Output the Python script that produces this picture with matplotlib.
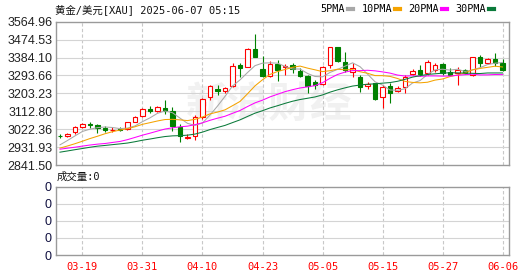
# Gold / USD daily k-line with moving averages (Sina style)
import numpy as np
import matplotlib
matplotlib.use('Agg')
import matplotlib.pyplot as plt
from matplotlib.ticker import FixedLocator, FuncFormatter
import pandas as pd

# data
dates = ['03-14', '03-17', '03-18', '03-19', '03-20', '03-21', '03-24', '03-25', '03-26', '03-27',
         '03-28', '03-31', '04-01', '04-02', '04-03', '04-04', '04-07', '04-08', '04-09', '04-10',
         '04-11', '04-14', '04-15', '04-16', '04-17', '04-21', '04-22', '04-23', '04-24', '04-25',
         '04-28', '04-29', '04-30', '05-01', '05-02', '05-05', '05-06', '05-07', '05-08', '05-09',
         '05-12', '05-13', '05-14', '05-15', '05-16', '05-19', '05-20', '05-21', '05-22', '05-23',
         '05-26', '05-27', '05-28', '05-29', '05-30', '06-02', '06-03', '06-04', '06-05', '06-06']
opens = [2990, 2986, 3006, 3033, 3046, 3042, 3026, 3016, 3021, 3023,
         3060, 3090, 3122, 3116, 3129, 3116, 3031, 2980, 2989, 3085,
         3183, 3224, 3217, 3240, 3345, 3338, 3425, 3328, 3292, 3351,
         3336, 3346, 3318, 3291, 3262, 3250, 3346, 3435, 3363, 3313,
         3284, 3240, 3254, 3183, 3240, 3215, 3233, 3301, 3321, 3304,
         3321, 3350, 3313, 3307, 3321, 3296, 3385, 3358, 3375, 3357]
highs = [2999, 3004, 3038, 3055, 3057, 3047, 3036, 3034, 3032, 3059,
         3087, 3128, 3140, 3139, 3169, 3136, 3048, 2998, 3094, 3182,
         3245, 3245, 3233, 3357, 3357, 3430, 3505, 3390, 3368, 3371,
         3351, 3354, 3330, 3296, 3270, 3341, 3438, 3438, 3413, 3354,
         3296, 3262, 3257, 3245, 3254, 3238, 3295, 3325, 3346, 3371,
         3357, 3358, 3330, 3338, 3325, 3389, 3397, 3384, 3405, 3378]
lows = [2979, 2982, 2999, 3026, 3030, 3004, 3009, 3009, 3013, 3019,
        3059, 3084, 3103, 3111, 3099, 3013, 2959, 2972, 2970, 3076,
        3170, 3194, 3206, 3236, 3286, 3335, 3385, 3287, 3285, 3267,
        3296, 3304, 3284, 3206, 3227, 3245, 3329, 3363, 3309, 3287,
        3212, 3224, 3170, 3127, 3156, 3212, 3206, 3296, 3292, 3296,
        3313, 3296, 3291, 3245, 3299, 3291, 3338, 3351, 3341, 3318]
closes = [2988, 3000, 3033, 3047, 3044, 3027, 3016, 3020, 3019, 3057,
          3082, 3124, 3116, 3133, 3116, 3038, 2988, 2984, 3082, 3175,
          3240, 3214, 3229, 3343, 3330, 3425, 3388, 3293, 3351, 3321,
          3343, 3324, 3291, 3240, 3244, 3334, 3435, 3368, 3321, 3329,
          3237, 3248, 3173, 3237, 3206, 3229, 3287, 3318, 3299, 3360,
          3344, 3304, 3296, 3321, 3304, 3385, 3358, 3375, 3355, 3322]

# moving averages as shown on the chart
ma5 = [2943.2, 2965.2, 2988.4, 3011.0, 3022.4, 3030.2, 3033.4, 3030.8, 3025.2, 3027.8,
       3038.8, 3060.4, 3079.6, 3102.4, 3114.2, 3105.4, 3078.2, 3051.8, 3041.6, 3053.4,
       3093.8, 3139.0, 3188.0, 3240.2, 3271.2, 3308.2, 3343.0, 3355.8, 3357.4, 3355.6,
       3339.2, 3326.4, 3326.0, 3303.8, 3288.4, 3286.6, 3308.8, 3324.2, 3340.4, 3357.4,
       3338.0, 3300.6, 3261.6, 3244.8, 3220.2, 3218.6, 3226.4, 3255.4, 3267.8, 3298.6,
       3321.6, 3325.0, 3320.6, 3325.0, 3313.8, 3322.0, 3332.8, 3348.6, 3355.4, 3359.0]
ma10 = [2926.8, 2937.5, 2949.0, 2961.7, 2975.0, 2986.7, 2999.3, 3009.6, 3018.1, 3025.1,
        3034.5, 3046.9, 3055.2, 3063.8, 3071.0, 3072.1, 3069.3, 3065.7, 3072.0, 3083.8,
        3099.6, 3108.6, 3119.9, 3140.9, 3162.3, 3201.0, 3241.0, 3271.9, 3298.8, 3313.4,
        3323.7, 3334.7, 3340.9, 3330.6, 3322.0, 3312.9, 3317.6, 3325.1, 3322.1, 3322.9,
        3312.3, 3304.7, 3292.9, 3292.6, 3288.8, 3278.3, 3263.5, 3258.5, 3256.3, 3259.4,
        3270.1, 3275.7, 3288.0, 3296.4, 3306.2, 3321.8, 3328.9, 3334.6, 3340.2, 3336.4]
ma20 = [2921.3, 2926.4, 2931.3, 2937.0, 2942.3, 2946.8, 2950.0, 2955.3, 2960.4, 2969.5,
        2980.7, 2992.2, 3002.1, 3012.8, 3023.0, 3029.4, 3034.3, 3037.7, 3045.1, 3054.5,
        3067.1, 3077.8, 3087.6, 3102.4, 3116.7, 3136.6, 3155.2, 3168.8, 3185.4, 3198.6,
        3211.7, 3221.7, 3230.4, 3235.8, 3242.2, 3257.0, 3279.3, 3298.5, 3310.5, 3318.2,
        3318.0, 3319.7, 3316.9, 3311.6, 3305.4, 3295.6, 3290.6, 3291.8, 3289.2, 3291.2,
        3291.2, 3290.2, 3290.5, 3294.5, 3297.5, 3300.1, 3296.2, 3296.6, 3298.3, 3297.9]
ma30 = [2906.3, 2912.4, 2918.8, 2924.8, 2931.1, 2936.6, 2940.2, 2944.3, 2948.1, 2952.4,
        2959.0, 2966.6, 2972.6, 2979.3, 2985.2, 2988.6, 2989.8, 2992.1, 2997.6, 3007.6,
        3020.3, 3031.0, 3041.4, 3055.5, 3069.4, 3086.6, 3103.2, 3115.7, 3129.6, 3140.8,
        3152.6, 3163.4, 3172.0, 3178.4, 3185.1, 3195.3, 3209.3, 3220.9, 3231.0, 3240.0,
        3245.2, 3249.3, 3251.2, 3254.7, 3257.7, 3264.1, 3274.0, 3285.2, 3292.4, 3298.6,
        3302.0, 3305.0, 3307.3, 3306.5, 3305.7, 3304.3, 3303.3, 3306.1, 3306.2, 3306.2]

price_ticks = [2841.50, 2931.93, 3022.36, 3112.80, 3203.23, 3293.66, 3384.10, 3474.53, 3564.96]
vol_ticks = [0, 1, 2, 3, 4]
vol_total = 0
ma_names = ['5PMA', '10PMA', '20PMA', '30PMA']
ma_colors = ['#a8a8a8', '#f5a300', '#ff00ff', '#0a7a3a']

df = pd.DataFrame({'date': dates, 'open': opens, 'high': highs, 'low': lows, 'close': closes})
x = np.arange(len(df))
up = (df.close >= df.open).values

RED = '#ff0000'
GREEN = '#008000'
GRID = '#d4d4d4'
FRAME = '#9a9a9a'
cjk = ['DejaVu Sans Mono', 'Noto Sans CJK SC']

fig = plt.figure(figsize=(5.3, 2.76), dpi=100)
fig.patch.set_facecolor('white')

W, H = 530.0, 276.0
ax = fig.add_axes([55.7 / W, 1 - 165 / H, (509.3 - 55.7) / W, (165 - 21.7) / H])
ax2 = fig.add_axes([55.7 / W, 1 - 255 / H, (509.3 - 55.7) / W, (255 - 186.7) / H])

xlim = (-0.57, 59.9)

# watermark
ax.text(0.47, 0.42, '新浪财经', transform=ax.transAxes, ha='center', va='center',
        fontsize=30, fontweight='bold', color='#f1f1f1', family='Noto Sans CJK SC', zorder=0)

# frames and dashed date lines
for a in (ax, ax2):
    a.set_xlim(*xlim)
    a.set_facecolor('white')
    for s in a.spines.values():
        s.set_color(FRAME)
        s.set_linewidth(1.0)
    a.tick_params(length=0)
    for t in range(3, len(df), 8):
        a.axvline(t, color='#c8c8c8', lw=0.8, ls=(0, (3, 2)), zorder=1)

ax.set_ylim(price_ticks[0], price_ticks[-1])
ax.yaxis.set_major_locator(FixedLocator(price_ticks))
ax.yaxis.set_major_formatter(FuncFormatter(lambda v, p: '%.2f' % v))
ax.tick_params(axis='y', pad=2, labelsize=9, labelcolor='#222222', labelfontfamily='Liberation Sans')
ax.set_xticks([])
for v in price_ticks[1:-1]:
    ax.axhline(v, color=GRID, lw=0.8, zorder=1)

# candles: wicks then bodies
ax.vlines(x[up], df.low[up], df.high[up], color=RED, lw=0.8, zorder=2)
ax.vlines(x[~up], df.low[~up], df.high[~up], color=GREEN, lw=0.8, zorder=2)
body = (df.close - df.open).abs().clip(lower=0.5).values
bottom = df[['open', 'close']].min(axis=1).values
ax.bar(x[up], body[up], bottom=bottom[up], width=0.62, facecolor='white', edgecolor=RED, lw=0.8, zorder=3)
ax.bar(x[~up], body[~up], bottom=bottom[~up], width=0.62, facecolor=GREEN, edgecolor=GREEN, lw=0.8, zorder=3)

# moving averages
lines = []
for vals, name, c in zip([ma5, ma10, ma20, ma30], ma_names, ma_colors):
    ln, = ax.plot(x, vals, color=c, lw=0.75, label=name, zorder=4)
    lines.append(ln)

leg = fig.legend(handles=lines, labels=ma_names, ncol=4, markerfirst=False, frameon=False,
                 loc='center right', bbox_to_anchor=(499 / W, 1 - 9.5 / H), borderpad=0,
                 handlelength=0.5, handletextpad=0.3, columnspacing=0.8,
                 prop={'family': 'DejaVu Sans Mono', 'size': 7.3})
for h in leg.legend_handles:
    h.set_linewidth(3)

# volume panel (no volume data)
ax2.set_ylim(vol_ticks[0], vol_ticks[-1])
ax2.yaxis.set_major_locator(FixedLocator(vol_ticks))
ax2.yaxis.set_major_formatter(FuncFormatter(lambda v, p: '%d' % vol_total))
ax2.tick_params(axis='y', pad=3, labelsize=9, labelcolor='#101040', labelfontfamily='Liberation Sans')
for v in vol_ticks[1:-1]:
    ax2.axhline(v, color=GRID, lw=0.8, zorder=1)
ax2.set_xticks(x[3::8])
ax2.set_xticklabels(df.date[3::8], family='DejaVu Sans Mono', fontsize=7.5, color=RED)
ax2.tick_params(axis='x', pad=5)

# texts
fig.text(55 / W, 1 - 9.5 / H, '黄金/美元[XAU] 2025-06-07 05:15', family=cjk, fontsize=7.5,
         va='center', ha='left', color='#111111')
fig.text(57 / W, 1 - 177 / H, '成交量:%d' % vol_total, family=cjk, fontsize=7.5,
         va='center', ha='left', color='#111111')

fig.savefig('out.png', dpi=100, facecolor='white')
